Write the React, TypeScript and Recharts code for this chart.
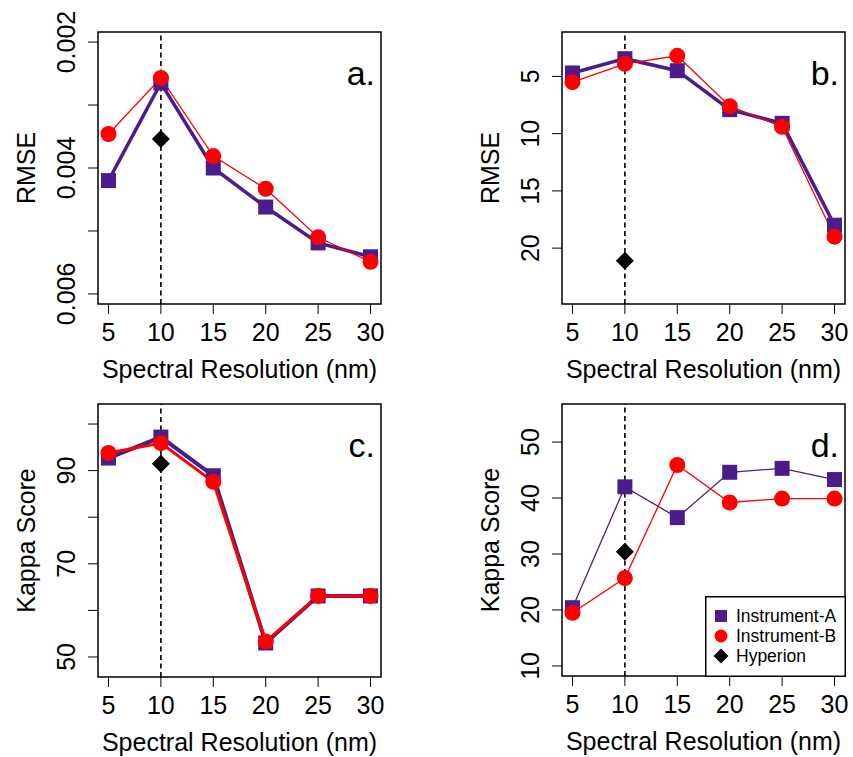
import { ComposedChart, Line, XAxis, YAxis, ReferenceLine, ReferenceArea, Legend } from 'recharts';

const PURPLE = '#4B1D8C';
const RED = '#FF0000';
const FONT = '"Liberation Sans", Arial, Helvetica, sans-serif';

const resolution = [5, 10, 15, 20, 25, 30];
const hyperionResolution = 10;

// a. RMSE, first target
const rmseFineA = [0.0042, 0.00265, 0.004, 0.00462, 0.00519, 0.00541];
const rmseFineB = [0.00346, 0.00257, 0.00381, 0.00433, 0.0051, 0.00549];
const rmseFineHyperion = 0.00354;
const rmseFineTicks = [0.002, 0.003, 0.004, 0.005, 0.006];
const rmseFineLabels = ['0.002', '', '0.004', '', '0.006'];

// b. RMSE, second target
const rmseCoarseA = [4.7, 3.45, 4.5, 7.9, 9.1, 18.0];
const rmseCoarseB = [5.5, 3.9, 3.2, 7.6, 9.4, 19.0];
const rmseCoarseHyperion = 21.1;
const rmseCoarseTicks = [5, 10, 15, 20];
const rmseCoarseLabels = ['5', '10', '15', '20'];

// c. Kappa, first target
const kappaFineA = [92.7, 97.2, 88.9, 53.0, 63.1, 63.1];
const kappaFineB = [93.8, 95.9, 87.6, 53.3, 63.1, 63.1];
const kappaFineHyperion = 91.5;
const kappaFineTicks = [50, 60, 70, 80, 90, 100];
const kappaFineLabels = ['50', '', '70', '', '90', ''];

// d. Kappa, second target
const kappaCoarseA = [20.4, 42.0, 36.5, 44.6, 45.3, 43.3];
const kappaCoarseB = [19.5, 25.7, 45.9, 39.2, 39.9, 39.9];
const kappaCoarseHyperion = 30.4;
const kappaCoarseTicks = [10, 20, 30, 40, 50];
const kappaCoarseLabels = ['10', '20', '30', '40', '50'];

const seriesNames = { a: 'Instrument-A', b: 'Instrument-B', hyp: 'Hyperion' };
const legendOrder = ['a', 'b', 'hyp'];

const rows = (a: number[], b: number[], hyp: number) =>
  resolution.map((r, i) => ({ res: r, a: a[i], b: b[i], hyp: r === hyperionResolution ? hyp : null }));

const PLOT_LEFT = 98;
const PLOT_TOP = 32;
const PLOT_W = 283;
const RIGHT = 8;

const squareDot = (p: any) => {
  if (p.cy == null || p.value == null) return <g key={`s-${p.index}`} />;
  return <rect key={`s-${p.index}`} x={p.cx - 7.5} y={p.cy - 7.5} width={15} height={15} fill={PURPLE} />;
};
const circleDot = (p: any) => {
  if (p.cy == null || p.value == null) return <g key={`c-${p.index}`} />;
  return <circle key={`c-${p.index}`} cx={p.cx} cy={p.cy} r={8} fill={RED} />;
};
const diamondDot = (p: any) => {
  if (p.cy == null || p.value == null) return <g key={`d-${p.index}`} />;
  const { cx, cy } = p;
  return <path key={`d-${p.index}`} d={`M${cx},${cy - 9}L${cx + 9},${cy}L${cx},${cy + 9}L${cx - 9},${cy}Z`} fill="#000" />;
};

const XTick = ({ x, y, payload }: any) => (
  <text x={x} y={y} dy={25} textAnchor="middle" fontSize={25} fontFamily={FONT} fill="#000">{payload.value}</text>
);

const makeYTick = (ticks: number[], labels: string[]) => ({ x, y, payload }: any) => {
  const label = labels[ticks.indexOf(payload.value)];
  if (!label) return <g />;
  const bx = x - 11;
  return (
    <text x={bx} y={y} transform={`rotate(-90 ${bx} ${y})`} textAnchor="middle" fontSize={25} fontFamily={FONT} fill="#000">{label}</text>
  );
};

const legendSymbol = (key: string, cx: number, cy: number) => {
  if (key === 'a') return <rect x={cx - 6} y={cy - 6} width={12} height={12} fill={PURPLE} />;
  if (key === 'b') return <circle cx={cx} cy={cy} r={6.5} fill={RED} />;
  return <path d={`M${cx},${cy - 7.5}L${cx + 7.5},${cy}L${cx},${cy + 7.5}L${cx - 7.5},${cy}Z`} fill="#000" />;
};

function LegendBox({ payload }: any) {
  const items = [...(payload || [])].sort(
    (p: any, q: any) => legendOrder.indexOf(p.dataKey) - legendOrder.indexOf(q.dataKey)
  );
  return (
    <svg width={141} height={81} style={{ display: 'block' }}>
      <rect x={0.75} y={0.75} width={139.5} height={79.5} fill="#fff" stroke="#000" strokeWidth={1.5} />
      {items.map((entry: any, i: number) => (
        <g key={entry.dataKey}>
          {legendSymbol(entry.dataKey, 16, 20 + i * 20)}
          <text x={31} y={20 + i * 20} dy="0.36em" fontSize={17.5} fontFamily={FONT} fill="#000">{entry.value}</text>
        </g>
      ))}
    </svg>
  );
}

type PanelProps = {
  left: number;
  top: number;
  plotH: number;
  axisH: number;
  data: any[];
  yDomain: [number, number];
  yTicks: number[];
  yLabels: string[];
  reversed?: boolean;
  yTitle: string;
  letter: string;
  widthA: number;
  widthB: number;
  legend?: boolean;
};

function Panel({ left, top, plotH, axisH, data, yDomain, yTicks, yLabels, reversed, yTitle, letter, widthA, widthB, legend }: PanelProps) {
  const W = PLOT_LEFT + PLOT_W + RIGHT;
  const H = PLOT_TOP + plotH + axisH;
  const yTitleX = PLOT_LEFT - 63;
  const yTitleY = PLOT_TOP + plotH / 2;

  return (
    <div style={{ position: 'absolute', left, top }}>
      <ComposedChart width={W} height={H} data={data} margin={{ top: PLOT_TOP, right: RIGHT, left: 0, bottom: 0 }}>
        <XAxis
          dataKey="res"
          type="number"
          domain={[4, 31]}
          ticks={resolution}
          interval={0}
          allowDataOverflow
          axisLine={false}
          stroke="#000"
          tickSize={10}
          height={axisH}
          tick={<XTick />}
          label={{
            content: () => (
              <text x={PLOT_LEFT + PLOT_W / 2} y={PLOT_TOP + plotH + 74} textAnchor="middle" fontSize={25} fontFamily={FONT} fill="#000">
                Spectral Resolution (nm)
              </text>
            ),
          }}
        />
        <YAxis
          type="number"
          domain={yDomain}
          ticks={yTicks}
          interval={0}
          reversed={reversed}
          allowDataOverflow
          axisLine={false}
          stroke="#000"
          tickSize={10}
          width={PLOT_LEFT}
          tick={makeYTick(yTicks, yLabels)}
          label={{
            content: () => (
              <text x={yTitleX} y={yTitleY} transform={`rotate(-90 ${yTitleX} ${yTitleY})`} textAnchor="middle" fontSize={25} fontFamily={FONT} fill="#000">
                {yTitle}
              </text>
            ),
          }}
        />
        <ReferenceLine x={hyperionResolution} stroke="#000" strokeWidth={1.6} strokeDasharray="5 3.5" ifOverflow="visible" />
        <Line type="linear" dataKey="a" name={seriesNames.a} stroke={PURPLE} strokeWidth={widthA} dot={squareDot} activeDot={false} isAnimationActive={false} />
        <Line type="linear" dataKey="b" name={seriesNames.b} stroke={RED} strokeWidth={widthB} dot={circleDot} activeDot={false} isAnimationActive={false} />
        <Line type="linear" dataKey="hyp" name={seriesNames.hyp} stroke="none" dot={diamondDot} activeDot={false} isAnimationActive={false} />
        <ReferenceArea
          x1={4}
          x2={31}
          y1={yDomain[0]}
          y2={yDomain[1]}
          fill="none"
          fillOpacity={0}
          stroke="#000"
          strokeWidth={1.5}
          ifOverflow="visible"
          label={{
            content: () => (
              <text x={PLOT_LEFT + PLOT_W - 6} y={PLOT_TOP + 53} textAnchor="end" fontSize={34} fontFamily={FONT} fill="#000">
                {letter}
              </text>
            ),
          }}
        />
        {legend && (
          <Legend
            layout="vertical"
            align="right"
            verticalAlign="bottom"
            content={<LegendBox />}
            wrapperStyle={{ left: 705 - 464, top: 596 - 372, width: 0, height: 0, bottom: 'auto', right: 'auto', overflow: 'visible' }}
          />
        )}
      </ComposedChart>
    </div>
  );
}

export default function App() {
  return (
    <div style={{ position: 'absolute', left: 0, top: 0, width: 853, height: 757, background: '#fff', overflow: 'hidden' }}>
      <Panel
        left={0}
        top={0}
        plotH={272}
        axisH={86}
        data={rows(rmseFineA, rmseFineB, rmseFineHyperion)}
        yDomain={[0.00184, 0.00616]}
        yTicks={rmseFineTicks}
        yLabels={rmseFineLabels}
        reversed
        yTitle="RMSE"
        letter="a."
        widthA={3.5}
        widthB={1.3}
      />
      <Panel
        left={464}
        top={0}
        plotH={272}
        axisH={86}
        data={rows(rmseCoarseA, rmseCoarseB, rmseCoarseHyperion)}
        yDomain={[1.12, 24.88]}
        yTicks={rmseCoarseTicks}
        yLabels={rmseCoarseLabels}
        reversed
        yTitle="RMSE"
        letter="b."
        widthA={3.5}
        widthB={1.3}
      />
      <Panel
        left={0}
        top={372}
        plotH={273}
        axisH={80}
        data={rows(kappaFineA, kappaFineB, kappaFineHyperion)}
        yDomain={[45.7, 104.3]}
        yTicks={kappaFineTicks}
        yLabels={kappaFineLabels}
        yTitle="Kappa Score"
        letter="c."
        widthA={4}
        widthB={3}
      />
      <Panel
        left={464}
        top={372}
        plotH={272}
        axisH={81}
        data={rows(kappaCoarseA, kappaCoarseB, kappaCoarseHyperion)}
        yDomain={[8.2, 56.8]}
        yTicks={kappaCoarseTicks}
        yLabels={kappaCoarseLabels}
        yTitle="Kappa Score"
        letter="d."
        widthA={1.3}
        widthB={1.3}
        legend
      />
    </div>
  );
}
